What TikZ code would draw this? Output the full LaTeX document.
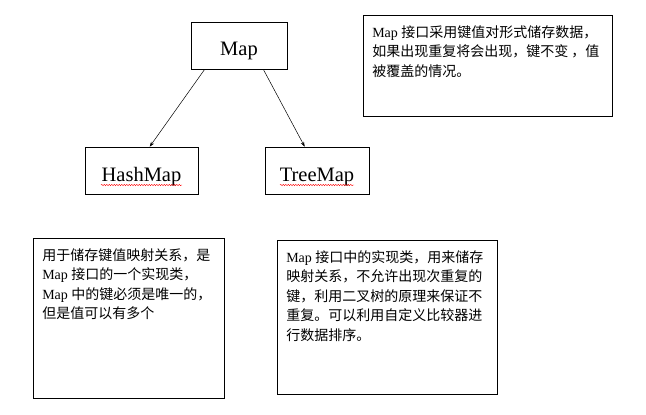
\documentclass[tikz,border=0pt]{standalone}
\usepackage{fontspec}
\setmainfont{Liberation Serif}
\newfontfamily\cjk{Noto Sans CJK SC}
\usetikzlibrary{arrows.meta,decorations.pathmorphing}
\tikzset{
	classbox/.style={draw, line width=0.6pt, inner sep=0pt, text height=21pt, text depth=0pt, font=\fontsize{20.5}{24}\selectfont},
	notebox/.style={draw, line width=0.6pt, anchor=north west, inner xsep=9pt, inner ysep=10pt, align=left},
	arr/.style={-{Stealth[length=5pt,width=3.5pt]}, line width=0.5pt},
	squiggle/.style={red, line width=0.4pt, decorate, decoration={snake, amplitude=0.7pt, segment length=2.5pt}}
}
\newcommand{\notetext}[3]{\parbox[t][#1][t]{#2}{\fontsize{14}{19.5}\selectfont #3}}
\begin{document}
\begin{tikzpicture}[x=1pt,y=-1pt]
				\useasboundingbox (0,0) rectangle (646,415);
				\node[classbox, minimum width=96pt, minimum height=47pt] (map) at (239,45.5) {Map};
				\node[classbox, minimum width=113pt, minimum height=47pt] (hash) at (141.5,170.5) {HashMap};
				\node[classbox, minimum width=104pt, minimum height=47pt] (tree) at (317,170.5) {TreeMap};
				\draw[arr] ([xshift=14pt]map.south west) -- ([xshift=65pt]hash.north west);
				\draw[arr] ([xshift=-24pt]map.south east) -- ([xshift=40pt]tree.north west);
				\draw[squiggle] (101,185) -- (182,185);
				\draw[squiggle] (280,185) -- (354,185);
				\node[notebox] (mapnote) at (363,15) {\notetext{81pt}{231pt}{Map {\cjk 接口采用键值对形式储存数据，}\\{\cjk 如果出现重复将会出现，键不变 ，值}\\{\cjk 被覆盖的情况。}}};
				\node[notebox] (hashnote) at (33,238) {\notetext{140pt}{173pt}{{\cjk 用于储存键值映射关系，是}\\Map {\cjk 接口的一个实现类，}\\Map {\cjk 中的键必须是唯一的，}\\{\cjk 但是值可以有多个}}};
				\node[notebox] (treenote) at (277,240) {\notetext{134pt}{202pt}{Map {\cjk 接口中的实现类，用来储存}\\{\cjk 映射关系，不允许出现次重复的}\\{\cjk 键，利用二叉树的原理来保证不}\\{\cjk 重复。可以利用自定义比较器进}\\{\cjk 行数据排序。}}};
\end{tikzpicture}
\end{document}
